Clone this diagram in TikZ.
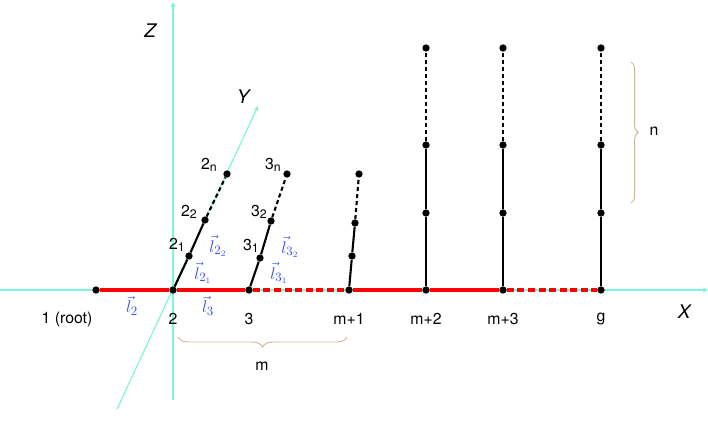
\documentclass[tikz,border=0pt]{standalone}
\usepackage{fontspec}
\setmainfont{TeX Gyre Heros}
\usepackage{amsmath}
\usepackage{xcolor}
\usetikzlibrary{arrows,positioning,decorations.pathreplacing,calc}

\definecolor{axiscol}{RGB}{125,245,215}
\definecolor{vecblue}{RGB}{55,75,240}
\definecolor{bracecol}{RGB}{200,185,152}
\newcommand{\vsub}[1]{\raisebox{-0.15ex}{\fontsize{10.5}{12}\selectfont #1}}

\begin{document}
\begin{tikzpicture}[
					x = 0.03cm, y = -0.03cm, >=stealth,
					every node/.style = {font=\fontsize{13.5}{16}\selectfont},
					vtx/.style = {circle,fill=black,inner sep=0pt,minimum size=0.22cm},
					axisln/.style = {axiscol,line width=1pt,->},
					axlbl/.style = {font=\fontsize{16}{18}\selectfont\itshape},
					trunk/.style = {red,line width=3.4pt},
					branch/.style = {black,line width=1.8pt},
					vlbl/.style = {text=vecblue,font=\fontsize{15}{18}\selectfont},
					brc/.style = {decorate,bracecol,line width=0.8pt}
					]

					\useasboundingbox (0,0) rectangle (708,441);

					% axes
					\coordinate (xs) at (0,290);
					\coordinate (xe) at (708,290);
					\coordinate (zs) at (173,400);
					\coordinate (ze) at (173,2);
					\coordinate (ys) at (117,409);
					\coordinate (ye) at (258,106);
					\draw[axisln] (xs) -- (xe);
					\draw[axisln] (zs) -- (ze);
					\draw[axisln] (ys) -- (ye);
					\node[axlbl] (xl) at (684,312) {X};
					\node[axlbl] (zl) at (150,31) {Z};
					\node[axlbl] (yl) at (243,97) {Y};

					% vertices on the X axis
					\node[vtx] (r) at (96,290) {};
					\node[vtx] (v2) at (173,290) {};
					\node[vtx] (v3) at (249,290) {};
					\node[vtx] (vm1) at (349,290) {};
					\node[vtx] (vm2) at (426,290) {};
					\node[vtx] (vm3) at (503,290) {};
					\node[vtx] (vg) at (601,290) {};

					\draw[trunk] (r) -- (v2) -- (v3);
					\draw[trunk,dash pattern=on 6pt off 3pt] (v3) -- (vm1);
					\draw[trunk] (vm1) -- (vm2) -- (vm3);
					\draw[trunk,dash pattern=on 6pt off 3pt] (vm3) -- (vg);

					% slanted branches
					\node[vtx] (v2-1) at (189,256) {};
					\node[vtx] (v2-2) at (205,220) {};
					\node[vtx] (v2-n) at (227,174) {};
					\node[vtx] (v3-1) at (260,258) {};
					\node[vtx] (v3-2) at (271,221) {};
					\node[vtx] (v3-n) at (287,174) {};
					\node[vtx] (vm1-1) at (352,256) {};
					\node[vtx] (vm1-2) at (355,223) {};
					\node[vtx] (vm1-n) at (359,174) {};
					\foreach \c in {2,3,m1}{
						\draw[branch] (v\c) -- (v\c-1) -- (v\c-2);
						\draw[branch,dash pattern=on 3.5pt off 2.5pt] (v\c-2) -- (v\c-n);
					}

					% upright branches
					\foreach \c/\x in {m2/426,m3/503,g/601}{
						\node[vtx] (v\c-1) at (\x,213) {};
						\node[vtx] (v\c-2) at (\x,145) {};
						\node[vtx] (v\c-n) at (\x,48) {};
						\draw[branch] (v\c) -- (v\c-1) -- (v\c-2);
						\draw[branch,dash pattern=on 3.5pt off 2.5pt] (v\c-2) -- (v\c-n);
					}

					% vertex labels
					\node (t1) at (67,319) {1 (root)};
					\node (t2) at (173,319) {2};
					\node (t3) at (249,319) {3};
					\node (tm1) at (349,319) {m+1};
					\node (tm2) at (426,319) {m+2};
					\node (tm3) at (503,319) {m+3};
					\node (tg) at (601,319) {g};
					\node (t21) at (177,245) {2\vsub{1}};
					\node (t22) at (189,212) {2\vsub{2}};
					\node (t2n) at (209,165) {2\vsub{n}};
					\node (t31) at (251,246) {3\vsub{1}};
					\node (t32) at (259,212) {3\vsub{2}};
					\node (t3n) at (273,165) {3\vsub{n}};

					% link vectors
					\node[vlbl] (l22) at (218,246) {$\vec{l}_{2_2}$};
					\node[vlbl] (l21) at (203,273) {$\vec{l}_{2_1}$};
					\node[vlbl] (l32) at (290,247) {$\vec{l}_{3_2}$};
					\node[vlbl] (l31) at (279,273) {$\vec{l}_{3_1}$};
					\node[vlbl] (l2) at (132,306) {$\vec{l}_{2}$};
					\node[vlbl] (l3) at (208,306) {$\vec{l}_{3}$};

					% braces
					\coordinate (ba) at (178,337);
					\coordinate (bb) at (347,337);
					\draw[brc,decoration={brace,mirror,amplitude=0.3cm}] (ba) -- (bb);
					\node (tm) at (262,366) {m};
					\coordinate (ca) at (631,62);
					\coordinate (cb) at (631,203);
					\draw[brc,decoration={brace,amplitude=0.22cm}] (ca) -- (cb);
					\node (tn) at (654,131) {n};

				\end{tikzpicture}
\end{document}
